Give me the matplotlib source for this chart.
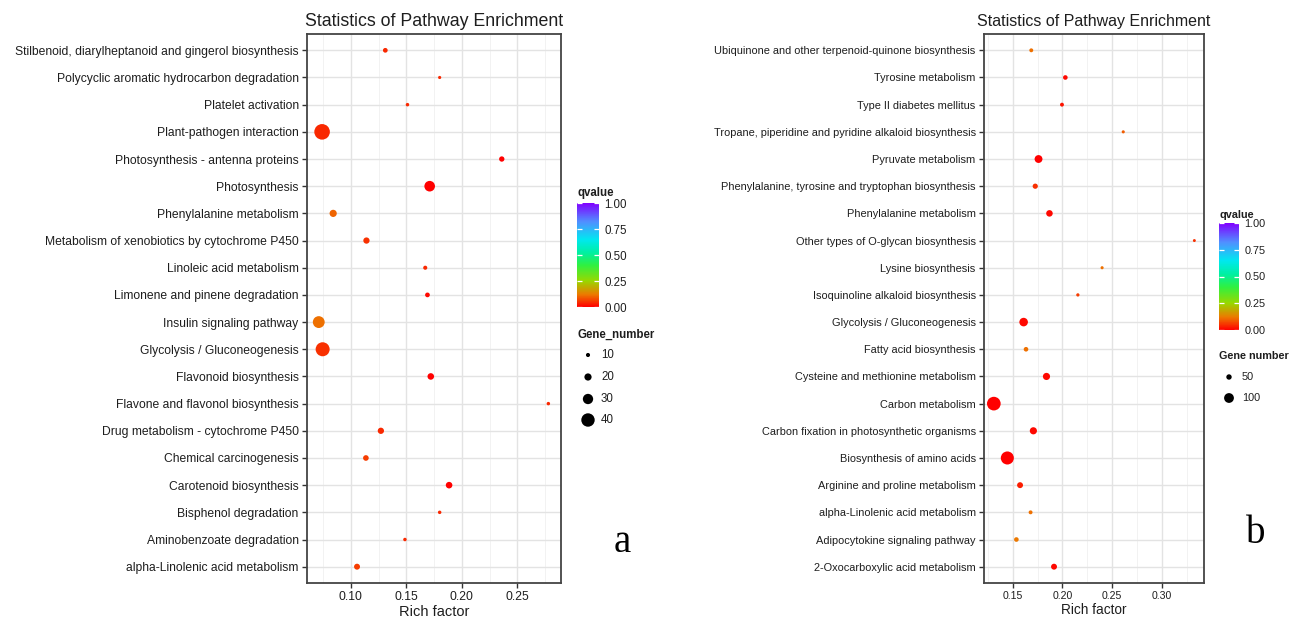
import numpy as np
import matplotlib
matplotlib.use("Agg")
import matplotlib.pyplot as plt
from matplotlib.colors import LinearSegmentedColormap, Normalize
from matplotlib.cm import ScalarMappable

plt.rcParams['font.family'] = ['Liberation Sans', 'DejaVu Sans']

# ---------------- data ----------------
# panel a (top to bottom)
pathways_a = [
    "Stilbenoid, diarylheptanoid and gingerol biosynthesis",
    "Polycyclic aromatic hydrocarbon degradation",
    "Platelet activation",
    "Plant-pathogen interaction",
    "Photosynthesis - antenna proteins",
    "Photosynthesis",
    "Phenylalanine metabolism",
    "Metabolism of xenobiotics by cytochrome P450",
    "Linoleic acid metabolism",
    "Limonene and pinene degradation",
    "Insulin signaling pathway",
    "Glycolysis / Gluconeogenesis",
    "Flavonoid biosynthesis",
    "Flavone and flavonol biosynthesis",
    "Drug metabolism - cytochrome P450",
    "Chemical carcinogenesis",
    "Carotenoid biosynthesis",
    "Bisphenol degradation",
    "Aminobenzoate degradation",
    "alpha-Linolenic acid metabolism",
]
rich_a = [0.131, 0.180, 0.151, 0.074, 0.236, 0.171, 0.084, 0.114, 0.167, 0.169,
          0.071, 0.0745, 0.172, 0.278, 0.127, 0.1135, 0.1885, 0.180, 0.1487, 0.1055]
genes_a = [12, 7, 8, 47, 14, 31, 20, 17, 10, 12, 35, 42, 18, 8, 17, 15, 18, 8, 8, 16]
qval_a = [0.04, 0.04, 0.04, 0.04, 0.0, 0.0, 0.10, 0.05, 0.04, 0.01,
          0.11, 0.05, 0.0, 0.04, 0.04, 0.06, 0.0, 0.04, 0.04, 0.06]

# panel b (top to bottom)
pathways_b = [
    "Ubiquinone and other terpenoid-quinone biosynthesis",
    "Tyrosine metabolism",
    "Type II diabetes mellitus",
    "Tropane, piperidine and pyridine alkaloid biosynthesis",
    "Pyruvate metabolism",
    "Phenylalanine, tyrosine and tryptophan biosynthesis",
    "Phenylalanine metabolism",
    "Other types of O-glycan biosynthesis",
    "Lysine biosynthesis",
    "Isoquinoline alkaloid biosynthesis",
    "Glycolysis / Gluconeogenesis",
    "Fatty acid biosynthesis",
    "Cysteine and methionine metabolism",
    "Carbon metabolism",
    "Carbon fixation in photosynthetic organisms",
    "Biosynthesis of amino acids",
    "Arginine and proline metabolism",
    "alpha-Linolenic acid metabolism",
    "Adipocytokine signaling pathway",
    "2-Oxocarboxylic acid metabolism",
]
rich_b = [0.1687, 0.203, 0.1996, 0.2613, 0.176, 0.1727, 0.187, 0.3329, 0.240, 0.2156,
          0.161, 0.1634, 0.184, 0.131, 0.1708, 0.1446, 0.1574, 0.168, 0.1537, 0.1916]
genes_b = [33, 41, 33, 24, 78, 48, 63, 22, 24, 26, 86, 41, 70, 144, 70, 137, 56, 33, 41, 56]
qval_b = [0.11, 0.01, 0.02, 0.09, 0.0, 0.05, 0.01, 0.05, 0.11, 0.06,
          0.01, 0.11, 0.01, 0.0, 0.01, 0.0, 0.03, 0.11, 0.12, 0.01]

legend_genes_a = [10, 20, 30, 40]
legend_genes_b = [50, 100]
qticks = [0.0, 0.25, 0.5, 0.75, 1.0]

# ---------------- styles ----------------
W, H = 1306, 621
cmap = LinearSegmentedColormap.from_list("qv", [
    (0.00, "#FF0000"), (0.12, "#EC7A00"), (0.25, "#98D800"), (0.40, "#30F040"),
    (0.52, "#00F0A0"), (0.65, "#00E8F0"), (0.82, "#5090FF"), (1.00, "#8000FF")])
norm = Normalize(0, 1)
TXT = "#1e1e1e"


def size_a(n):
    d = 1.0 + 0.31 * np.asarray(n, float)
    return (d * 0.72) ** 2


def size_b(n):
    d = 1.0 + 0.088 * np.asarray(n, float)
    return (d * 0.72) ** 2


fig = plt.figure(figsize=(W / 100, H / 100), dpi=100)


def px_axes(x0, y0, x1, y1):
    return fig.add_axes([x0 / W, 1 - y1 / H, (x1 - x0) / W, (y1 - y0) / H])


def panel(box, names, rich, genes, qv, xlim, xticks, sizef, lab_fs, xt_fs,
          xl_fs, title_fs):
    ax = px_axes(*box)
    n = len(names)
    ypos = np.arange(n)[::-1]
    ax.set_axisbelow(True)
    ax.scatter(rich, ypos, s=sizef(genes), c=qv, cmap=cmap, norm=norm,
               linewidths=0, zorder=3)
    ax.set_xlim(*xlim)
    ax.set_ylim(-0.6, n - 1 + 0.6)
    ax.set_yticks(ypos)
    ax.set_yticklabels(names, fontsize=lab_fs, color=TXT)
    ax.set_xticks(xticks)
    ax.set_xticklabels([f"{t:.2f}" for t in xticks], fontsize=xt_fs, color=TXT)
    minors = [t + 0.025 for t in [xticks[0] - 0.05] + list(xticks)]
    ax.set_xticks(minors, minor=True)
    ax.tick_params(axis='x', which='minor', length=0)
    ax.tick_params(axis='both', which='major', length=3.5, width=1.0,
                   color="#333333", pad=2.5)
    ax.grid(True, which='major', color="#E3E3E3", linewidth=1.0)
    ax.grid(True, which='minor', axis='x', color="#F0F0F0", linewidth=0.6)
    for sp in ax.spines.values():
        sp.set_color("#444444")
        sp.set_linewidth(1.3)
    ax.set_xlabel("Rich factor", fontsize=xl_fs, color=TXT, labelpad=1)
    ax.set_title("Statistics of Pathway Enrichment", fontsize=title_fs,
                 color=TXT, pad=6)
    return ax


axa = panel((307, 34, 561, 583), pathways_a, rich_a, genes_a, qval_a,
            (0.0604, 0.2894), [0.10, 0.15, 0.20, 0.25], size_a,
            8.7, 8.8, 10.5, 12.8)
axb = panel((984, 34, 1204, 583), pathways_b, rich_b, genes_b, qval_b,
            (0.1211, 0.3426), [0.15, 0.20, 0.25, 0.30], size_b,
            7.9, 7.6, 9.8, 11.5)

# overlay axes in pixel coordinates for legends
ov = fig.add_axes([0, 0, 1, 1], zorder=10)
ov.set_xlim(0, W)
ov.set_ylim(H, 0)
ov.axis('off')


def colorbar_legend(x0, y0, x1, y1, title_xy, fs):
    cax = px_axes(x0, y0, x1, y1)
    cb = fig.colorbar(ScalarMappable(norm=norm, cmap=cmap), cax=cax)
    cb.outline.set_visible(False)
    cb.set_ticks(qticks)
    cb.set_ticklabels([f"{t:.2f}" for t in qticks])
    cax.tick_params(axis='y', direction='in', color='white', length=3.5,
                    width=0.9, left=True, right=True, labelsize=fs,
                    labelcolor=TXT, pad=4)
    ov.text(title_xy[0], title_xy[1], "qvalue", fontsize=fs, fontweight='bold',
            color=TXT, ha='left', va='bottom')


def size_legend(title, title_xy, x, ys, vals, sizef, fs):
    ov.text(title_xy[0], title_xy[1], title, fontsize=fs, fontweight='bold',
            color=TXT, ha='left', va='center')
    ov.scatter([x] * len(vals), ys, s=sizef(vals), c='black', linewidths=0)
    for y, v in zip(ys, vals):
        ov.text(x + 13, y, str(v), fontsize=fs, color=TXT, ha='left', va='center')


colorbar_legend(577, 203, 599, 307, (577, 199), 8.3)
size_legend("Gene_number", (577, 335), 588, [355, 377, 399, 420],
            legend_genes_a, size_a, 8.3)

colorbar_legend(1219, 223, 1239, 330, (1219, 220), 7.8)
size_legend("Gene number", (1219, 356), 1229, [377, 398],
            legend_genes_b, size_b, 7.8)

# panel letters
ov.text(622, 552, "a", fontsize=28, family=['Liberation Serif', 'DejaVu Serif'],
        color="black", ha='center', va='baseline')
ov.text(1256, 543, "b", fontsize=28, family=['Liberation Serif', 'DejaVu Serif'],
        color="black", ha='center', va='baseline')

fig.savefig("out.png", dpi=100, facecolor='white')
